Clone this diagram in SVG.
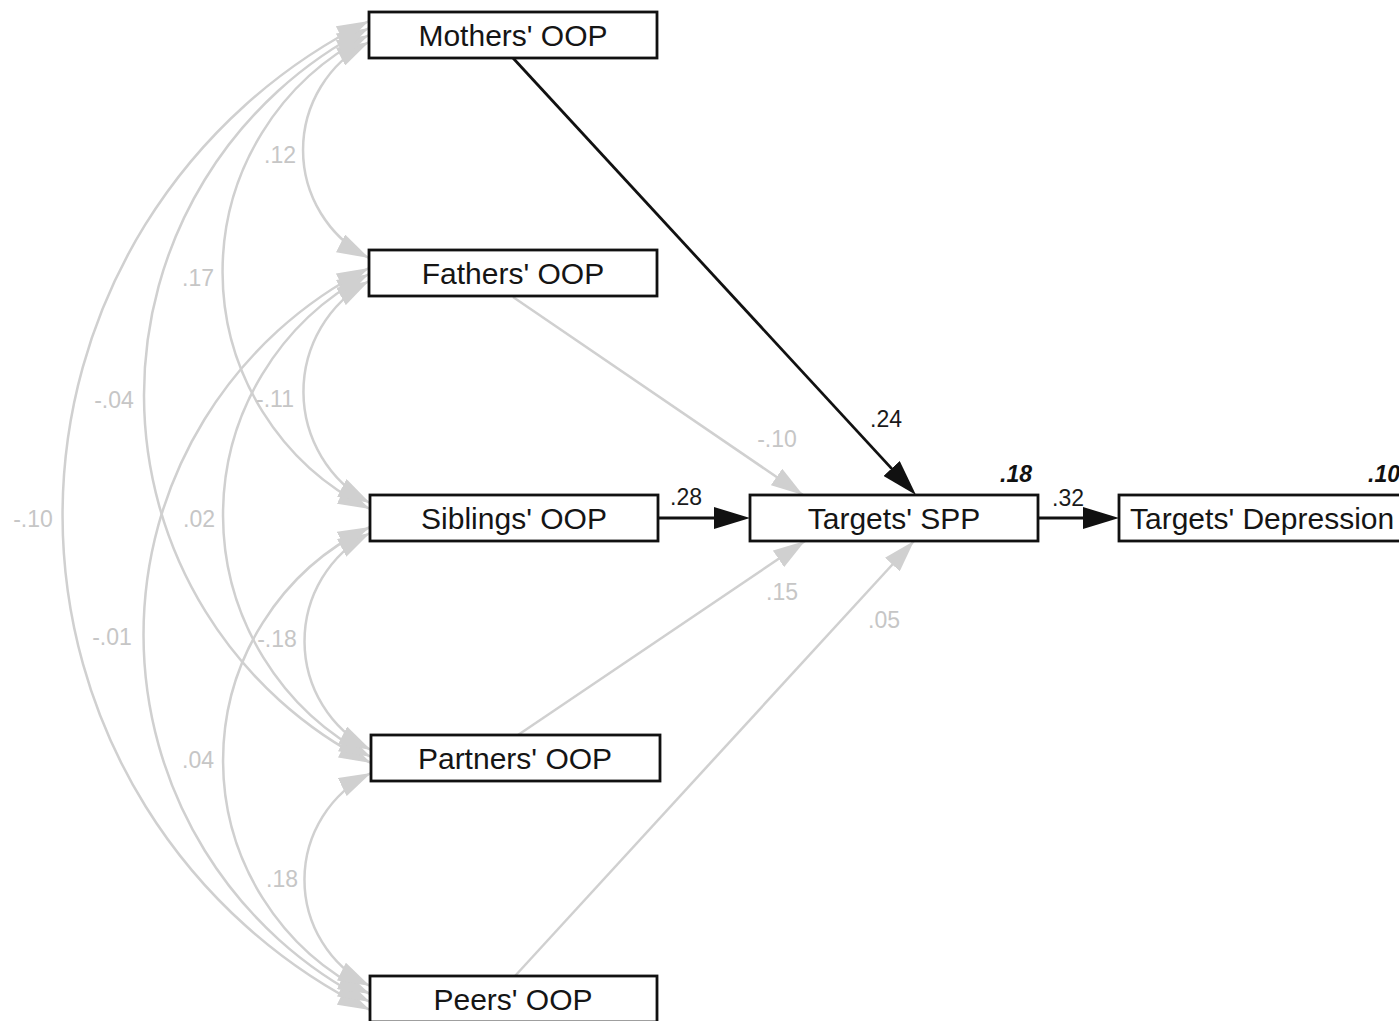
<svg xmlns="http://www.w3.org/2000/svg" width="1399" height="1021" viewBox="0 0 1399 1021">
<style>
.box{fill:#ffffff;stroke:#111111;stroke-width:2.8}
.nt{font-family:"Liberation Sans",Arial,sans-serif;font-size:30px;fill:#151515;text-anchor:middle}
.lb{font-family:"Liberation Sans",Arial,sans-serif;font-size:23px;text-anchor:middle}
.g{fill:#c6c6c6}
.k{fill:#1a1a1a}
.r2{font-weight:bold;font-style:italic;fill:#111111}
.cov{fill:none;stroke:#d0d0d0;stroke-width:2.5;marker-start:url(#ga);marker-end:url(#ga)}
.gl{fill:none;stroke:#d0d0d0;stroke-width:2.5;marker-end:url(#ga)}
.bl{fill:none;stroke:#111111;stroke-width:2.8;marker-end:url(#ba)}
</style>
<defs>
<marker id="ga" viewBox="0 0 32 20" refX="32" refY="10" markerWidth="32" markerHeight="20" markerUnits="userSpaceOnUse" orient="auto-start-reverse">
<path d="M0,0 L32,10 L0,20 Z" fill="#d0d0d0"/>
</marker>
<marker id="ba" viewBox="0 0 36 22" refX="28" refY="11" markerWidth="36" markerHeight="22" markerUnits="userSpaceOnUse" orient="auto">
<path d="M0,0 L36,11 L0,22 Z" fill="#111111"/>
</marker>
</defs>
<rect width="1399" height="1021" fill="#ffffff"/>
<g id="connectors">
<path class="cov" d="M369,42 A121.4,121.4 0 0 0 369,258"/>
<path class="cov" d="M369,35 A264.6,264.6 0 0 0 370,509"/>
<path class="cov" d="M369,28 A411.8,411.8 0 0 0 371,763"/>
<path class="cov" d="M369,21 A551.8,551.8 0 0 0 370,1010"/>
<path class="cov" d="M369,281 A126.3,126.3 0 0 0 370,503"/>
<path class="cov" d="M369,274 A271.9,271.9 0 0 0 371,757"/>
<path class="cov" d="M369,268 A411,411 0 0 0 370,1002"/>
<path class="cov" d="M370,533 A122.2,122.2 0 0 0 371,750"/>
<path class="cov" d="M370,527 A259,259 0 0 0 370,994"/>
<path class="cov" d="M371,773 A118.9,118.9 0 0 0 370,986"/>
<path class="gl" d="M513,297 L803,495"/>
<path class="gl" d="M518,735 L805,541"/>
<path class="gl" d="M515,976 L914,541"/>
<path class="bl" d="M513,58 L910.6,489.1"/>
<path class="bl" d="M658,518 L742,518"/>
<path class="bl" d="M1038,518 L1111,518"/>
</g>
<g id="labels">
<text class="lb g" x="280" y="163">.12</text>
<text class="lb g" x="198" y="286">.17</text>
<text class="lb g" x="114" y="408">-.04</text>
<text class="lb g" x="275" y="407">-.11</text>
<text class="lb g" x="33" y="527">-.10</text>
<text class="lb g" x="199" y="527">.02</text>
<text class="lb g" x="112" y="645">-.01</text>
<text class="lb g" x="277" y="647">-.18</text>
<text class="lb g" x="198" y="768">.04</text>
<text class="lb g" x="282" y="887">.18</text>
<text class="lb k" x="886" y="427">.24</text>
<text class="lb g" x="777" y="447">-.10</text>
<text class="lb k" x="686" y="505">.28</text>
<text class="lb g" x="782" y="600">.15</text>
<text class="lb g" x="884" y="628">.05</text>
<text class="lb k" x="1068" y="506">.32</text>
<text class="lb r2" x="1016" y="482">.18</text>
<text class="lb r2" x="1368" y="482" style="text-anchor:start">.10</text>
</g>
<g id="mothers">
<rect class="box" x="369" y="12" width="288" height="46"/>
<text class="nt" x="513" y="46">Mothers' OOP</text>
</g>
<g id="fathers">
<rect class="box" x="369" y="250" width="288" height="46"/>
<text class="nt" x="513" y="284">Fathers' OOP</text>
</g>
<g id="siblings">
<rect class="box" x="370" y="495" width="288" height="46"/>
<text class="nt" x="514" y="529">Siblings' OOP</text>
</g>
<g id="partners">
<rect class="box" x="371" y="735" width="289" height="46"/>
<text class="nt" x="515" y="769">Partners' OOP</text>
</g>
<g id="peers">
<rect class="box" x="370" y="976" width="287" height="46"/>
<text class="nt" x="513" y="1010">Peers' OOP</text>
</g>
<g id="targets_spp">
<rect class="box" x="750" y="495" width="288" height="46"/>
<text class="nt" x="894" y="529">Targets' SPP</text>
</g>
<g id="targets_depression">
<rect class="box" x="1119" y="495" width="300" height="46"/>
<text class="nt" x="1130" y="529" style="text-anchor:start">Targets' Depression</text>
</g>
</svg>
